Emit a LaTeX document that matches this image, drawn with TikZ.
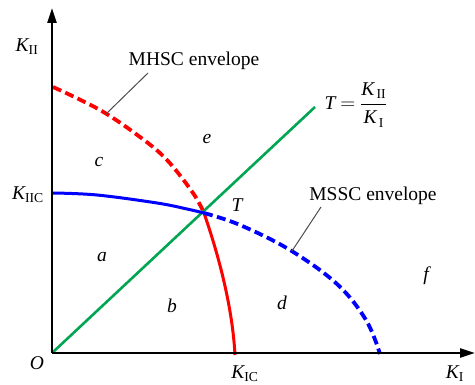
\documentclass[tikz,border=0pt]{standalone}
\usepackage{fontspec}
\setmainfont{Liberation Serif}
\usetikzlibrary{arrows.meta}
\definecolor{cgreen}{RGB}{0,166,81}
\definecolor{cred}{RGB}{255,0,0}
\definecolor{cblue}{RGB}{0,0,255}
\tikzset{
  axis/.style={line width=2.6pt,-{Triangle[length=15pt,width=9pt]}},
  solidcurve/.style={line width=3pt},
  dashcurve/.style={line width=3.8pt,dash pattern=on 9pt off 4.5pt},
  leader/.style={line width=1pt,draw=black!70},
  lbl/.style={inner sep=0pt,font=\fontsize{19.5}{23}\selectfont},
  region/.style={inner sep=0pt,font=\fontsize{19.5}{23}\selectfont\itshape}
}
\newcommand{\Ksub}[1]{{\itshape K}\textsubscript{#1}}
\begin{document}
\begin{tikzpicture}[x=1pt,y=-1pt]
\useasboundingbox (0,0) rectangle (475,385);
\coordinate (O) at (52,353);
\coordinate (Ytip) at (52,8);
\coordinate (Xtip) at (475,353);
\coordinate (X) at (204,213);
% green line
\draw[cgreen,line width=2.6pt] (O) -- (315,107);
% red curves
\draw[cred,dashcurve] plot[smooth,tension=0.6] coordinates {(53,87) (100,110) (140,137) (167,160) (193,193) (X)};
\draw[cred,solidcurve] (X) .. controls (215,245) and (232,300) .. (235,355);
% blue curves
\draw[cblue,solidcurve] plot[smooth,tension=0.6] coordinates {(53,193) (97,195) (157,203) (187,209) (X)};
\draw[cblue,dashcurve] plot[smooth,tension=0.6] coordinates {(X) (240,225) (290,250) (337,284) (366,320) (380,354)};
% axes
\draw[axis] (O) -- (Ytip);
\draw[axis] (O) -- (Xtip);
% labels
\node[lbl] (kii) at (27,47) {\Ksub{II}};
\node[lbl] (kiic) at (28,195) {\Ksub{IIC}};
\node[lbl] (o) at (37,363) {\itshape O};
\node[lbl] (kic) at (245,374) {\Ksub{IC}};
\node[lbl] (ki) at (455,374) {\Ksub{I}};
\node[lbl] (t) at (237,205) {\itshape T};
\node[lbl] (formula) at (356,105) {{\itshape T} $=$ $\displaystyle\frac{\mbox{\Ksub{\,II}}}{\mbox{\Ksub{\,I}}}$};
\node[lbl,anchor=base] (mhsc) at (194,66) {MHSC envelope};
\node[lbl,anchor=base] (mssc) at (373,201) {MSSC envelope};
\coordinate (mh1) at (148,73);
\coordinate (mh2) at (106,114);
\coordinate (ms1) at (321,207);
\coordinate (ms2) at (292,251);
\draw[leader] (mh1) -- (mh2);
\draw[leader] (ms1) -- (ms2);
% region letters
\node[region] (c) at (99,162) {c};
\node[region] (e) at (207,139) {e};
\node[region] (a) at (102,257) {a};
\node[region] (b) at (172,306) {b};
\node[region] (d) at (282,303) {d};
\node[region] (f) at (426,276) {f};
\end{tikzpicture}
\end{document}
